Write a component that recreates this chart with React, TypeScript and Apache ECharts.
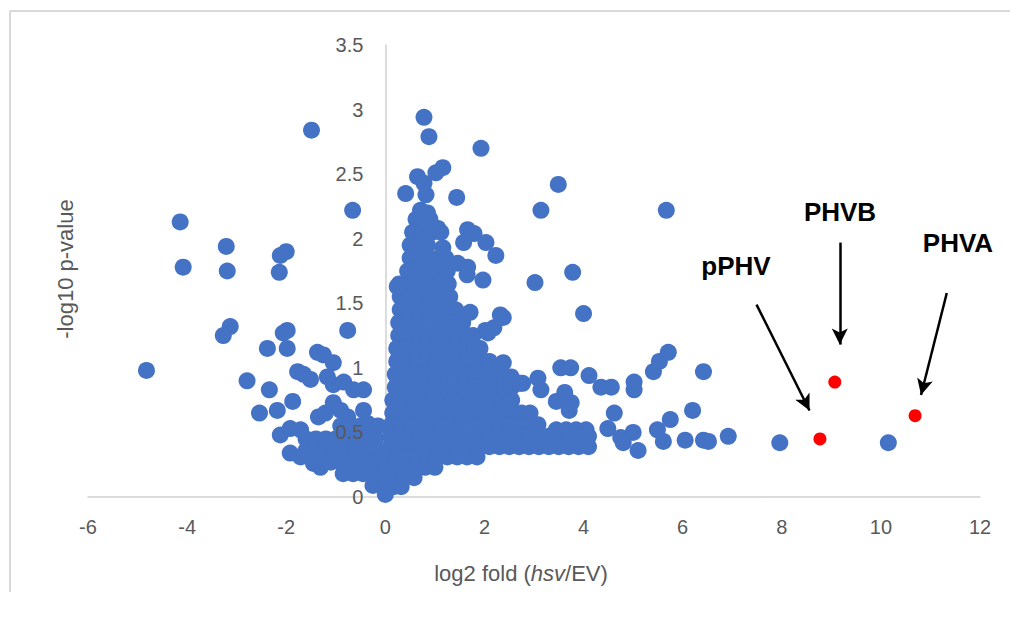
import React, { useEffect, useRef } from "react";
import * as echarts from "echarts";

const FONT = "'Liberation Sans', Arial, sans-serif";
const BLUE = "#4472C4";
const RED = "#FF0000";

const xTicks = { min: -6, max: 12, interval: 2 };
const yTicks = { min: 0, max: 3.5, interval: 0.5 };

// Scattered genes left of zero
const leftOutliers: [number, number][] = [
  [-4.82, 0.98], [-4.14, 2.13], [-4.08, 1.78], [-3.21, 1.94], [-3.19, 1.75], [-3.13, 1.32],
  [-3.27, 1.25], [-2.79, 0.9], [-2.38, 1.15], [-2.34, 0.83], [-2.54, 0.65], [-2.18, 0.67],
  [-1.87, 0.74], [-2.0, 1.9], [-2.12, 1.87], [-2.14, 1.74], [-1.98, 1.29], [-2.06, 1.27],
  [-1.98, 1.15], [-0.76, 1.29], [-0.66, 2.22], [-1.49, 2.84], [-1.77, 0.97], [-1.65, 0.95],
  [-1.51, 0.91], [-1.37, 1.12], [-1.25, 1.1], [-1.05, 1.04], [-1.17, 0.93], [-1.05, 0.87],
  [-0.84, 0.89], [-0.64, 0.83], [-0.44, 0.83], [-1.35, 0.62], [-1.21, 0.65], [-2.12, 0.48],
  [-1.92, 0.53], [-1.71, 0.52], [-1.92, 0.34], [-1.71, 0.31], [-1.45, 0.26], [-1.31, 0.23],
  [-1.05, 0.73], [-0.9, 0.67], [-0.76, 0.62], [-0.44, 0.67], [-0.36, 0.57],
];

// Dense cluster left of zero, by -log10 p rows
const leftCluster: [number, number[]][] = [
  [0.55, [-0.9, -0.7, -0.5, -0.3, -0.15]],
  [0.45, [-1.6, -1.4, -1.2, -1.0, -0.8, -0.6, -0.4, -0.2]],
  [0.36, [-1.6, -1.4, -1.2, -1.0, -0.8, -0.6, -0.4, -0.18]],
  [0.27, [-1.3, -1.1, -0.9, -0.7, -0.5, -0.3, -0.15]],
  [0.18, [-0.85, -0.65, -0.45, -0.25, -0.08]],
  [0.09, [-0.25, -0.08]],
];

// Dense cluster right of zero, by -log10 p rows
const rightCluster: [number, number[]][] = [
  [2.15, [0.62, 0.78, 0.9]],
  [2.05, [0.55, 0.75, 0.95, 1.12]],
  [1.95, [0.5, 0.68, 0.85]],
  [1.85, [0.5, 0.7, 0.9, 1.08, 1.22]],
  [1.75, [0.45, 0.65, 0.85, 1.05, 1.25]],
  [1.65, [0.28, 0.48, 0.68, 0.88, 1.08, 1.27]],
  [1.55, [0.3, 0.5, 0.7, 0.9, 1.1, 1.3]],
  [1.45, [0.3, 0.5, 0.7, 0.9, 1.1, 1.3, 1.42]],
  [1.35, [0.27, 0.47, 0.67, 0.87, 1.07, 1.27, 1.47, 1.56]],
  [1.25, [0.27, 0.47, 0.67, 0.87, 1.07, 1.27, 1.47, 1.65, 1.77]],
  [1.15, [0.23, 0.43, 0.63, 0.83, 1.03, 1.23, 1.43, 1.63, 1.8, 1.91]],
  [1.05, [0.23, 0.43, 0.63, 0.83, 1.03, 1.23, 1.43, 1.63, 1.83, 2.0, 2.1]],
  [0.95, [0.2, 0.4, 0.6, 0.8, 1.0, 1.2, 1.4, 1.6, 1.8, 2.0, 2.2, 2.37]],
  [0.85, [0.2, 0.4, 0.6, 0.8, 1.0, 1.2, 1.4, 1.6, 1.8, 2.0, 2.2, 2.4, 2.55]],
  [0.75, [0.15, 0.35, 0.55, 0.75, 0.95, 1.15, 1.35, 1.55, 1.75, 1.95, 2.15, 2.35, 2.55]],
  [0.65, [0.15, 0.35, 0.55, 0.75, 0.95, 1.15, 1.35, 1.55, 1.75, 1.95, 2.15, 2.35, 2.55, 2.75, 2.92]],
  [0.56, [0.12, 0.32, 0.52, 0.72, 0.92, 1.12, 1.32, 1.52, 1.72, 1.92, 2.12, 2.32, 2.52, 2.72, 2.92, 3.08]],
  [0.52, [3.45, 3.65, 3.85, 4.05]],
  [0.47, [0.1, 0.3, 0.5, 0.7, 0.9, 1.1, 1.3, 1.5, 1.7, 1.9, 2.1, 2.3, 2.5, 2.7, 2.9, 3.1, 3.3, 3.5, 3.7, 3.9, 4.1]],
  [0.39, [0.1, 0.3, 0.5, 0.7, 0.9, 1.1, 1.3, 1.5, 1.7, 1.9, 2.1, 2.3, 2.5, 2.7, 2.9, 3.1, 3.3, 3.5, 3.7, 3.9, 4.1]],
  [0.31, [0.05, 0.25, 0.45, 0.65, 0.85, 1.05, 1.25, 1.45, 1.65, 1.85]],
  [0.23, [0.02, 0.2, 0.4, 0.6, 0.8, 1.0]],
  [0.15, [0.0, 0.18, 0.38, 0.58]],
  [0.08, [0.02, 0.17, 0.32]],
  [0.02, [0.0]],
];

// Scattered genes right of zero
const rightOutliers: [number, number][] = [
  [0.78, 2.94], [0.88, 2.79], [1.93, 2.7], [1.16, 2.55], [1.02, 2.51], [0.65, 2.48],
  [0.78, 2.43], [0.41, 2.35], [0.82, 2.34], [1.44, 2.32], [0.71, 2.22], [0.85, 2.2],
  [1.06, 2.08], [1.66, 2.07], [1.79, 2.04], [1.16, 1.93], [1.58, 1.97], [2.03, 1.97],
  [2.23, 1.87], [1.46, 1.81], [1.66, 1.78], [1.65, 1.72], [1.97, 1.68], [0.24, 1.63],
  [1.71, 1.43], [2.32, 1.41], [2.38, 1.39], [2.19, 1.31], [2.02, 1.29], [2.07, 1.27],
  [2.38, 1.04], [2.72, 0.88], [2.77, 0.88],
  [3.49, 2.42], [3.14, 2.22], [5.67, 2.22], [3.78, 1.74], [3.02, 1.66], [4.0, 1.42],
  [3.54, 1.0], [3.74, 1.0], [4.11, 0.94], [4.35, 0.85], [4.56, 0.85], [5.02, 0.89],
  [5.02, 0.83], [5.41, 0.97], [5.53, 1.05], [5.71, 1.12], [6.42, 0.97],
  [2.54, 0.93], [3.08, 0.92], [3.14, 0.83], [3.45, 0.74], [3.62, 0.81], [3.75, 0.73],
  [3.71, 0.67], [4.62, 0.65], [6.2, 0.67],
  [4.49, 0.53], [4.75, 0.46], [5.0, 0.5], [5.1, 0.36], [4.8, 0.42],
  [5.49, 0.52], [5.75, 0.6], [5.61, 0.43],
  [6.05, 0.44], [6.42, 0.44], [6.52, 0.43], [6.92, 0.47], [7.96, 0.42], [10.15, 0.42],
];

// Highlighted genes
const highlightNames = ["pPHV", "PHVB", "PHVA"];
const highlightX = [8.77, 9.07, 10.69];
const highlightY = [0.45, 0.89, 0.63];

// Annotation arrows: [startX, startY, endX, endY] in data units
const arrowLines: [number, number, number, number][] = [
  [7.49, 1.49, 8.56, 0.67],
  [9.17, 1.97, 9.17, 1.18],
  [11.33, 1.58, 10.81, 0.79],
];

const GRID_LEFT = 88;
const GRID_RIGHT = 30;
const CHART_W = 1010;

export default function App() {
  const ref = useRef<HTMLDivElement>(null);

  useEffect(() => {
    if (!ref.current) return;
    const chart = echarts.init(ref.current, undefined, { renderer: "svg" });

    const flatten = (rows: [number, number[]][]) =>
      rows.flatMap(([y, xs]) => xs.map((x) => [x, y]));

    const blue = [
      ...leftOutliers,
      ...flatten(leftCluster),
      ...flatten(rightCluster),
      ...rightOutliers,
    ];
    const red = highlightX.map((x, i) => ({ name: highlightNames[i], value: [x, highlightY[i]] }));

    const axisLineStyle = { color: "#d0d0d0", width: 1.5 };
    // put the y axis (line and labels) at x = 0
    const plotW = CHART_W - GRID_LEFT - GRID_RIGHT;
    const zeroOffset = -((0 - xTicks.min) / (xTicks.max - xTicks.min)) * plotW;

    const yBase = {
      type: "value",
      min: yTicks.min,
      max: yTicks.max,
      interval: yTicks.interval,
      offset: zeroOffset,
      axisTick: { show: false },
      splitLine: { show: false },
    };

    chart.setOption({
      animation: false,
      backgroundColor: "#ffffff",
      grid: { left: GRID_LEFT, right: GRID_RIGHT, top: 45, bottom: 120, containLabel: false },
      xAxis: {
        type: "value",
        min: xTicks.min,
        max: xTicks.max,
        interval: xTicks.interval,
        axisLine: { show: true, onZero: false, lineStyle: axisLineStyle },
        axisTick: { show: false },
        splitLine: { show: false },
        axisLabel: { color: "#595959", fontSize: 20, fontFamily: FONT, margin: 20 },
      },
      yAxis: [
        {
          ...yBase,
          z: 0,
          axisLine: { show: true, onZero: false, lineStyle: axisLineStyle },
          axisLabel: { show: false },
        },
        {
          ...yBase,
          position: "left",
          z: 10,
          axisLine: { show: false, onZero: false },
          axisLabel: { color: "#595959", fontSize: 20, fontFamily: FONT, margin: 22, hideOverlap: false },
        },
      ],
      series: [
        {
          type: "scatter",
          data: blue,
          symbol: "circle",
          symbolSize: 17,
          itemStyle: { color: BLUE, opacity: 1 },
          silent: true,
          z: 2,
        },
        {
          type: "scatter",
          data: red,
          symbol: "circle",
          symbolSize: 13,
          itemStyle: { color: RED, opacity: 1 },
          silent: true,
          z: 3,
          markLine: {
            silent: true,
            animation: false,
            symbol: ["none", "arrow"],
            symbolSize: [12, 16],
            label: { show: false },
            lineStyle: { color: "#000000", width: 2.5, type: "solid" },
            data: arrowLines.map(([x1, y1, x2, y2]) => [
              { coord: [x1, y1] },
              { coord: [x2, y2] },
            ]),
          },
        },
      ],
      graphic: [
        { type: "line", shape: { x1: 10, y1: 11, x2: 1010, y2: 11 }, style: { stroke: "#d9d9d9", lineWidth: 2 }, silent: true },
        { type: "line", shape: { x1: 10, y1: 11, x2: 10, y2: 592 }, style: { stroke: "#d9d9d9", lineWidth: 2 }, silent: true },
        {
          type: "text",
          x: 521,
          y: 573,
          silent: true,
          style: {
            text: "{n|log2 fold (}{i|hsv}{n|/EV)}",
            align: "center",
            verticalAlign: "middle",
            rich: {
              n: { fontSize: 22, fontFamily: FONT, fill: "#595959" },
              i: { fontSize: 22, fontFamily: FONT, fontStyle: "italic", fill: "#595959" },
            },
          },
        },
        {
          type: "text",
          x: 65,
          y: 269,
          rotation: Math.PI / 2,
          silent: true,
          style: {
            text: "-log10 p-value",
            align: "center",
            verticalAlign: "middle",
            fontSize: 22,
            fontFamily: FONT,
            fill: "#595959",
          },
        },
        {
          type: "text", x: 736, y: 266, silent: true,
          style: { text: highlightNames[0], align: "center", verticalAlign: "middle", fontSize: 26, fontWeight: "bold", fontFamily: FONT, fill: "#000" },
        },
        {
          type: "text", x: 840, y: 212, silent: true,
          style: { text: highlightNames[1], align: "center", verticalAlign: "middle", fontSize: 26, fontWeight: "bold", fontFamily: FONT, fill: "#000" },
        },
        {
          type: "text", x: 958, y: 243, silent: true,
          style: { text: highlightNames[2], align: "center", verticalAlign: "middle", fontSize: 26, fontWeight: "bold", fontFamily: FONT, fill: "#000" },
        },
      ],
    });

    return () => chart.dispose();
  }, []);

  return (
    <div
      ref={ref}
      style={{ position: "fixed", left: 0, top: 0, width: 1010, height: 617, background: "#fff" }}
    />
  );
}
